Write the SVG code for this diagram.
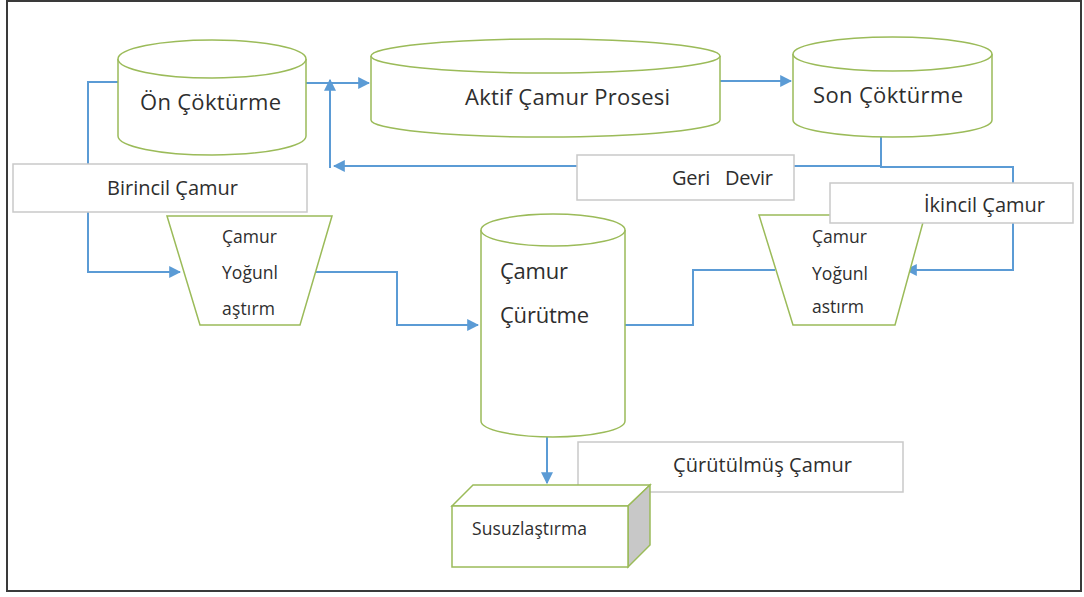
<svg xmlns="http://www.w3.org/2000/svg" width="1084" height="597" viewBox="0 0 1084 597">
  <style>
    .tank { fill: #ffffff; stroke: #9bbb59; stroke-width: 1.5; }
    .label { fill: #ffffff; stroke: #c9c9c9; stroke-width: 1.5; }
    .flow { fill: none; stroke: #5b9bd5; stroke-width: 2; }
    text { font-family: "Open Sans", Lato, "Liberation Sans", sans-serif; fill: #2e2e2e; }
    .big { font-size: 22px; }
    .mid { font-size: 20px; }
    .small { font-size: 17.5px; }
  </style>
  <defs>
    <marker id="arrow" viewBox="0 0 10 10" refX="9" refY="5" markerWidth="6" markerHeight="6" orient="auto" markerUnits="strokeWidth">
      <path d="M0,0 L10,5 L0,10 Z" fill="#5b9bd5"/>
    </marker>
  </defs>

  <!-- outer frame -->
  <rect x="7" y="1" width="1074" height="590" fill="#ffffff" stroke="#3a3a3a" stroke-width="2"/>

  <!-- connectors (drawn beneath nodes) -->
  <g id="connectors">
    <!-- primary sludge to left thickener -->
    <path class="flow" d="M130,82 H88 V272 H180" marker-end="url(#arrow)"/>
    <!-- primary clarifier to activated sludge -->
    <path class="flow" d="M306,83 H369" marker-end="url(#arrow)"/>
    <!-- return sludge riser -->
    <path class="flow" d="M330,168 V80" marker-end="url(#arrow)"/>
    <!-- activated sludge to final clarifier -->
    <path class="flow" d="M720,81 H791" marker-end="url(#arrow)"/>
    <!-- return sludge line -->
    <path class="flow" d="M881,166 H334" marker-end="url(#arrow)"/>
    <!-- secondary sludge -->
    <path class="flow" d="M881,123 V167 H1013 V270 H906" marker-end="url(#arrow)"/>
    <!-- left thickener to digester -->
    <path class="flow" d="M312,272 H397 V325 H478" marker-end="url(#arrow)"/>
    <!-- right thickener to digester -->
    <path class="flow" d="M775,270 H693 V325 H613" marker-end="url(#arrow)"/>
    <!-- digester to dewatering -->
    <path class="flow" d="M547,437 V483" marker-end="url(#arrow)"/>
  </g>

  <g id="on-cokturme">
    <path class="tank" d="M118,59 V136 A94,19 0 0 0 306,136 V59"/>
    <ellipse class="tank" cx="212" cy="59" rx="94" ry="19"/>
    <text class="big" x="140" y="110" textLength="141">Ön Çöktürme</text>
  </g>

  <g id="aktif-camur">
    <path class="tank" d="M371,56 V120 A174.5,17 0 0 0 720,120 V56"/>
    <ellipse class="tank" cx="545.5" cy="56" rx="174.5" ry="17"/>
    <text class="big" x="465" y="105" textLength="205">Aktif Çamur Prosesi</text>
  </g>

  <g id="son-cokturme">
    <path class="tank" d="M793,54 V120 A99.5,17 0 0 0 992,120 V54"/>
    <ellipse class="tank" cx="892.5" cy="54" rx="99.5" ry="17"/>
    <text class="big" x="813" y="103" textLength="150">Son Çöktürme</text>
  </g>

  <g id="birincil-camur">
    <rect class="label" x="13" y="164" width="294" height="48"/>
    <text class="mid" x="107" y="195" textLength="131">Birincil Çamur</text>
  </g>

  <g id="geri-devir">
    <rect class="label" x="577" y="155" width="217" height="45"/>
    <text class="mid" x="672" y="185" textLength="101" xml:space="preserve">Geri   Devir</text>
  </g>

  <g id="yogunlastirma-sol">
    <polygon class="tank" points="167,216 332,216 300,325 200,325"/>
    <text class="small" x="222" y="243" textLength="55">Çamur</text>
    <text class="small" x="222" y="279" textLength="56">Yoğunl</text>
    <text class="small" x="222" y="315" textLength="53">aştırm</text>
  </g>

  <g id="yogunlastirma-sag">
    <polygon class="tank" points="759,215 925,215 895,325 793,325"/>
    <text class="small" x="812" y="243" textLength="55">Çamur</text>
    <text class="small" x="812" y="280" textLength="56">Yoğunl</text>
    <text class="small" x="812" y="313" textLength="52">astırm</text>
  </g>

  <g id="ikincil-camur">
    <rect class="label" x="830" y="183" width="243" height="40"/>
    <text class="mid" x="924" y="212" textLength="121">İkincil Çamur</text>
  </g>

  <g id="camur-curutme">
    <path class="tank" d="M481,230 V421 A72,16 0 0 0 625,421 V230"/>
    <ellipse class="tank" cx="553" cy="230" rx="72" ry="16"/>
    <text class="big" x="500" y="279" textLength="68">Çamur</text>
    <text class="big" x="500" y="323" textLength="89">Çürütme</text>
  </g>

  <g id="curutulmus-camur">
    <rect class="label" x="578" y="442" width="325" height="50"/>
    <text class="mid" x="673" y="472" textLength="179">Çürütülmüş Çamur</text>
  </g>

  <g id="susuzlastirma">
    <polygon class="tank" points="452,506 473,485 650,485 628,506"/>
    <polygon points="628,506 650,485 650,545 628,567" fill="#c8c8c8" stroke="#9bbb59" stroke-width="1.5"/>
    <rect class="tank" x="452" y="506" width="176" height="61"/>
    <text class="small" x="472" y="535" textLength="115">Susuzlaştırma</text>
  </g>
</svg>
